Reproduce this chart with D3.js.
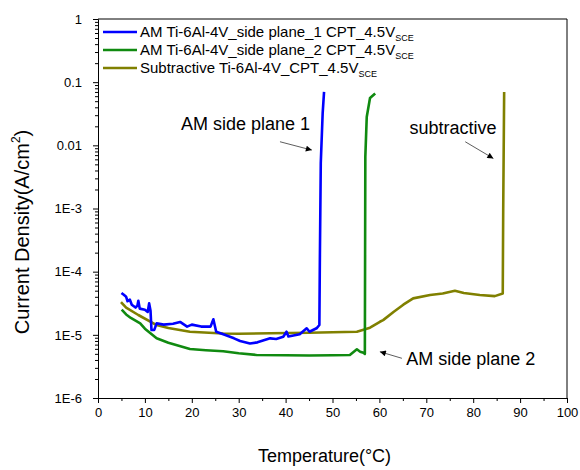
<!DOCTYPE html>
<html><head><meta charset="utf-8">
<script src="https://cdn.jsdelivr.net/npm/d3@7"></script>
<style>
html,body{margin:0;padding:0;background:#fff;}
svg text{font-family:Arial,"Liberation Sans",sans-serif;}
</style></head>
<body>
<svg id="chart" width="580" height="470"></svg>
<script>
// ---- data ----
const xTicks = [0,10,20,30,40,50,60,70,80,90,100];
const yTicks = [1e-6,1e-5,1e-4,1e-3,1e-2,1e-1,1];
const yTickLabels = ["1E-6","1E-5","1E-4","1E-3","0.01","0.1","1"];

const plane1T = [5.0,5.5,6.0,6.3,6.8,7.2,8.0,8.4,8.6,8.9,10.0,10.6,10.9,11.2,11.4,12.0,12.5,14.0,16.0,17.5,19.0,20.0,22.0,24.0,24.6,25.2,27.0,29.0,30.3,32.4,34.0,36.7,38.0,39.5,40.2,40.6,43.0,44.5,45.1,46.6,47.2,47.3,47.5,47.9,48.2];
const plane1V = [4.6e-5,4.3e-5,4.0e-5,3.4e-5,3.6e-5,3.0e-5,2.7e-5,2.9e-5,3.46e-5,2.6e-5,2.5e-5,2.3e-5,3.15e-5,2.4e-5,1.19e-5,1.2e-5,1.52e-5,1.45e-5,1.5e-5,1.6e-5,1.35e-5,1.45e-5,1.35e-5,1.35e-5,1.76e-5,1.12e-5,1.0e-5,8.8e-6,7.98e-6,7.3e-6,7.6e-6,8.8e-6,8.6e-6,9.3e-6,1.12e-5,9.4e-6,1.02e-5,1.27e-5,1.12e-5,1.27e-5,1.43e-5,1.4e-4,5.2e-3,3.2e-2,7.0e-2];

const plane2T = [5.05,6.0,7.0,9.0,10.0,12.5,15.0,19.6,23.0,26.7,30.0,33.8,40.0,45.0,50.0,53.7,55.2,55.9,56.6,56.9,57.0,57.3,58.0,59.1];
const plane2V = [2.5e-5,2.1e-5,1.85e-5,1.52e-5,1.25e-5,8.8e-6,7.5e-6,5.96e-6,5.7e-6,5.5e-6,5.1e-6,4.8e-6,4.75e-6,4.7e-6,4.75e-6,4.8e-6,5.9e-6,5.4e-6,5.2e-6,5.0e-6,6.6e-3,2.8e-2,5.6e-2,6.6e-2];

const subT = [4.9,6.0,8.6,12.5,15.0,19.6,26.7,30.0,36.7,45.0,50.0,55.2,58.0,60.1,60.8,63.0,65.1,67.2,70.8,73.5,76.1,78.0,81.4,84.6,86.3,86.4,86.6];
const subV = [3.3e-5,2.7e-5,2.06e-5,1.43e-5,1.28e-5,1.12e-5,1.05e-5,1.04e-5,1.06e-5,1.08e-5,1.1e-5,1.12e-5,1.3e-5,1.61e-5,1.71e-5,2.3e-5,3.0e-5,3.78e-5,4.26e-5,4.5e-5,4.99e-5,4.6e-5,4.26e-5,4.1e-5,4.5e-5,1e-3,7.0e-2];

const seriesNames = ["AM Ti-6Al-4V_side plane_1 CPT_4.5V","AM Ti-6Al-4V_side plane_2 CPT_4.5V","Subtractive Ti-6Al-4V_CPT_4.5V"];
const seriesColors = ["#0000ff","#108a10","#808000"];

const annoText = ["AM side plane 1","subtractive","AM side plane 2"];
const annoTextPos = [[17.7,1.74e-2],[66.4,1.5e-2],[65.7,3.33e-6]];
const arrowFrom = [[38.8,1.14e-2],[78.3,1.14e-2],[64.8,4.25e-6]];
const arrowTo = [[45.6,8.4e-3],[84.3,6.2e-3],[60.1,5.4e-6]];

// ---- chart ----
const svg = d3.select("#chart");
const L=98, R=567, T=19, B=398;
const x = d3.scaleLinear().domain([0,100]).range([L,R]);
const y = d3.scaleLog().domain([1e-6,1]).range([B,T]);

svg.append("defs").append("marker")
  .attr("id","ah").attr("viewBox","0 0 10 10").attr("refX",10).attr("refY",5)
  .attr("markerWidth",9).attr("markerHeight",6).attr("markerUnits","userSpaceOnUse")
  .attr("orient","auto")
  .append("path").attr("d","M0,0L10,5L0,10z").attr("fill","#000");

// axes
const minorY = [];
for (let e=-6; e<0; e++) for (let k=2;k<=9;k++) minorY.push(k*Math.pow(10,e));
const minorX = d3.range(5,100,10);

svg.append("g").attr("transform",`translate(${L},0)`)
  .call(d3.axisLeft(y).tickValues(yTicks).tickSize(5).tickPadding(11)
    .tickFormat((d,i)=>yTickLabels[i]));
svg.append("g").attr("transform",`translate(${L},0)`)
  .call(d3.axisLeft(y).tickValues(minorY).tickSize(3).tickFormat(""))
  .select(".domain").remove();
svg.append("g").attr("transform",`translate(0,${B})`)
  .call(d3.axisBottom(x).tickValues(xTicks).tickSize(5).tickPadding(5));
svg.append("g").attr("transform",`translate(0,${B})`)
  .call(d3.axisBottom(x).tickValues(minorX).tickSize(3).tickFormat(""))
  .select(".domain").remove();
svg.selectAll(".tick text").attr("font-size",13).attr("fill","#000")
  .attr("font-family","Arial, 'Liberation Sans', sans-serif");
svg.selectAll(".domain, .tick line").attr("stroke","#000");

// frame top/right
svg.append("line").attr("x1",L).attr("x2",R).attr("y1",T).attr("y2",T).attr("stroke","#000");
svg.append("line").attr("x1",R).attr("x2",R).attr("y1",T).attr("y2",B).attr("stroke","#000");

// curves
const line = d3.line().x(d=>x(d[0])).y(d=>y(d[1]));
const seriesData = [
  d3.zip(plane1T,plane1V),
  d3.zip(plane2T,plane2V),
  d3.zip(subT,subV)
];
[2,1,0].forEach(i=>{
  svg.append("path").datum(seriesData[i]).attr("d",line)
    .attr("fill","none").attr("stroke",seriesColors[i]).attr("stroke-width",2.6)
    .attr("stroke-linejoin","round");
});

// annotations
annoText.forEach((t,i)=>{
  svg.append("text").attr("x",x(annoTextPos[i][0])).attr("y",y(annoTextPos[i][1]))
    .attr("font-size",18).attr("fill","#000").text(t);
  svg.append("line")
    .attr("x1",x(arrowFrom[i][0])).attr("y1",y(arrowFrom[i][1]))
    .attr("x2",x(arrowTo[i][0])).attr("y2",y(arrowTo[i][1]))
    .attr("stroke","#333").attr("stroke-width",0.8).attr("marker-end","url(#ah)");
});

// legend
const legRows = [32,50,68];
seriesNames.forEach((n,i)=>{
  svg.append("line").attr("x1",103).attr("x2",137).attr("y1",legRows[i]).attr("y2",legRows[i])
    .attr("stroke",seriesColors[i]).attr("stroke-width",2.6);
  const t = svg.append("text").attr("x",140).attr("y",legRows[i]+5).attr("font-size",15).attr("fill","#000");
  t.append("tspan").text(n);
  t.append("tspan").attr("font-size",9).attr("dy",4).text("SCE");
});

// axis titles
svg.append("text").attr("x",(L+R)/2 - 8).attr("y",462).attr("text-anchor","middle")
  .attr("font-size",18).attr("fill","#000").text("Temperature(\u00B0C)");
const yt = svg.append("text").attr("transform","translate(29,232) rotate(-90)")
  .attr("text-anchor","middle").attr("font-size",20).attr("fill","#000");
yt.append("tspan").text("Current Density(A/cm");
yt.append("tspan").attr("font-size",12).attr("dy",-9).text("2");
yt.append("tspan").attr("dy",9).text(")");
</script>
</body></html>
